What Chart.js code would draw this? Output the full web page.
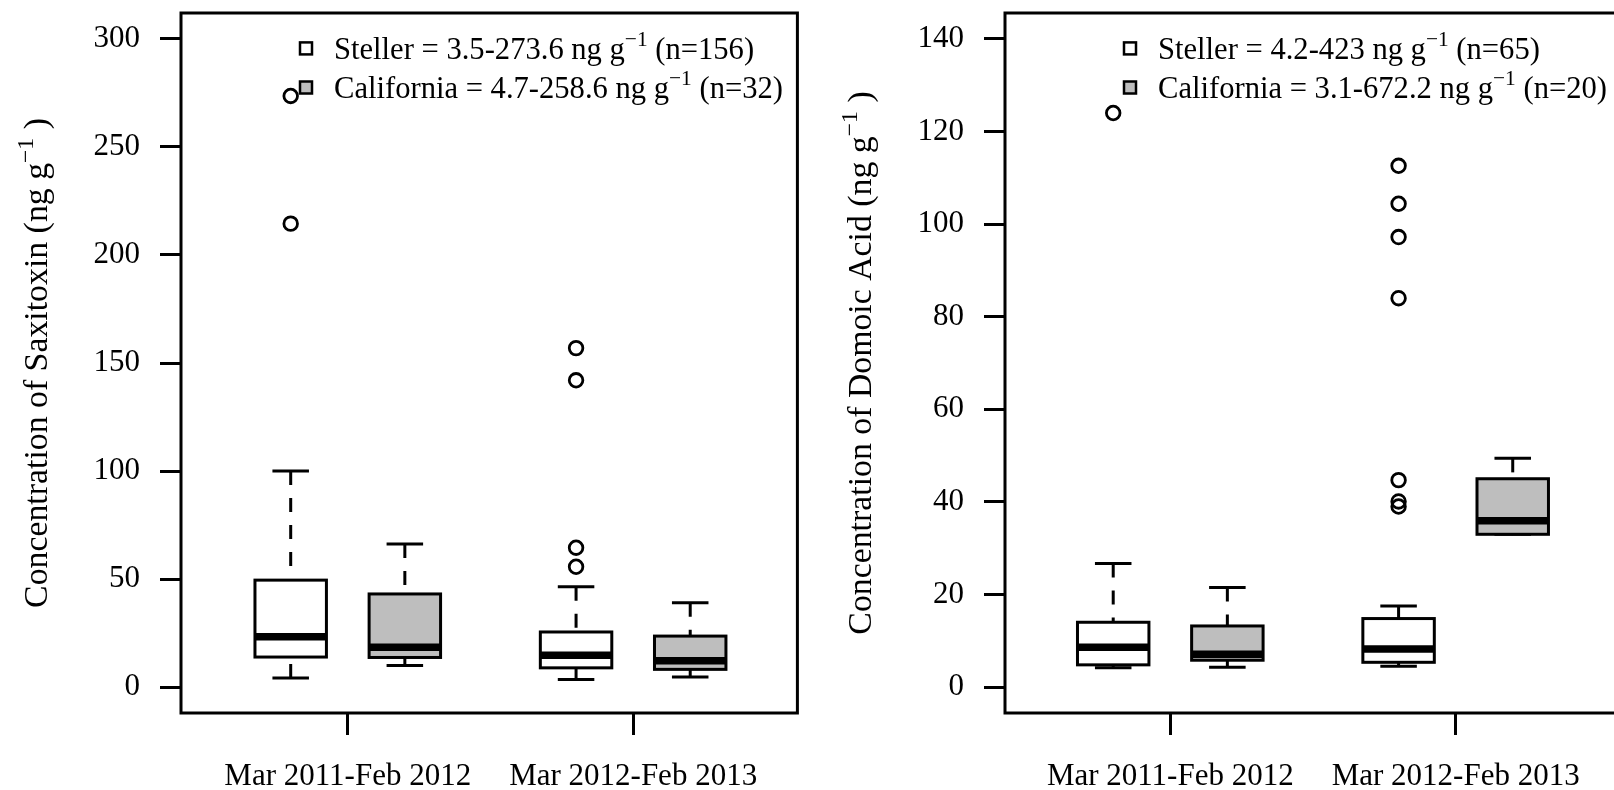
<!DOCTYPE html>
<html>
<head>
<meta charset="utf-8">
<title>Saxitoxin and domoic acid in Steller and California sea lions</title>
<script src="https://cdn.jsdelivr.net/npm/chart.js@4"></script>
<style>
html, body { margin: 0; padding: 0; background: #fff; overflow: hidden; width: 1614px; height: 790px; }
canvas { position: absolute; top: 0; }
#stx { left: 0; }
#da { left: 807px; }
</style>
</head>
<body>
<canvas id="stx" width="807" height="790"></canvas>
<canvas id="da" width="824" height="790"></canvas>
<script>
// groups on the x axis and where the boxes sit
const periods = ['Mar 2011-Feb 2012', 'Mar 2012-Feb 2013'];
const periodPos = [1.5, 4.0];
const boxPos = [1, 2, 3.5, 4.5];
const boxSpecies = ['Steller', 'California', 'Steller', 'California'];
const species = ['Steller', 'California'];

// saxitoxin (ng/g): whisker low, Q1, median, Q3, whisker high
const stxLow = [4.2, 10.0, 3.5, 4.7];
const stxQ1 = [13.9, 13.7, 8.9, 8.2];
const stxMed = [23.3, 18.4, 14.7, 12.2];
const stxQ3 = [49.5, 43.1, 25.5, 23.6];
const stxHigh = [100.0, 66.2, 46.4, 39.0];
const stxOutPos = [1, 1, 3.5, 3.5, 3.5, 3.5];
const stxOutVal = [273.6, 214.5, 156.9, 142.0, 64.5, 55.7];
const stxTicks = [0, 50, 100, 150, 200, 250, 300];
const stxRange = ['3.5-273.6', '4.7-258.6'];
const stxN = [156, 32];

// domoic acid (ng/g)
const daLow = [4.2, 4.3, 4.5, 33.0];
const daQ1 = [4.8, 5.8, 5.35, 33.0];
const daMed = [8.6, 7.1, 8.2, 35.9];
const daQ3 = [14.0, 13.2, 14.8, 45.0];
const daHigh = [26.7, 21.5, 17.5, 49.4];
const daOutPos = [1, 3.5, 3.5, 3.5, 3.5, 3.5, 3.5, 3.5];
const daOutVal = [124.0, 112.6, 104.4, 97.2, 84.0, 44.7, 40.1, 39.0];
const daTicks = [0, 20, 40, 60, 80, 100, 120, 140];
const daRange = ['4.2-423', '3.1-672.2'];
const daN = [65, 20];

const FONT = '"Liberation Serif", "Times New Roman", serif';
const fills = { Steller: '#ffffff', California: '#bebebe' };
const MINUS = '\u2212';

function richText(ctx, x, y, parts, size, measureOnly) {
  let cx = x;
  for (const [t, sup] of parts) {
    ctx.font = (sup ? size * 0.7 : size) + 'px ' + FONT;
    if (!measureOnly) ctx.fillText(t, cx, sup ? y - size * 0.42 : y);
    cx += ctx.measureText(t).width;
  }
  return cx - x;
}

function boxplotPlugin(d) {
  return {
    id: 'boxplot',
    beforeDatasetsDraw(chart) {
      const { ctx } = chart;
      const xs = chart.scales.x, ys = chart.scales.y;
      const unit = xs.getPixelForValue(1) - xs.getPixelForValue(0);
      const half = unit * 0.313, cap = unit * 0.16;
      ctx.save();
      ctx.strokeStyle = '#000';
      boxPos.forEach((p, i) => {
        const cx = xs.getPixelForValue(p);
        const yLo = ys.getPixelForValue(d.low[i]);
        const y1 = ys.getPixelForValue(d.q1[i]);
        const ym = ys.getPixelForValue(d.med[i]);
        const y3 = ys.getPixelForValue(d.q3[i]);
        const yHi = ys.getPixelForValue(d.high[i]);
        ctx.lineWidth = 3;
        ctx.setLineDash([14, 13]);
        ctx.beginPath(); ctx.moveTo(cx, yHi); ctx.lineTo(cx, y3); ctx.stroke();
        ctx.beginPath(); ctx.moveTo(cx, yLo); ctx.lineTo(cx, y1); ctx.stroke();
        ctx.setLineDash([]);
        ctx.beginPath();
        ctx.moveTo(cx - cap, yHi); ctx.lineTo(cx + cap, yHi);
        ctx.moveTo(cx - cap, yLo); ctx.lineTo(cx + cap, yLo);
        ctx.stroke();
        ctx.fillStyle = fills[boxSpecies[i]];
        ctx.fillRect(cx - half, y3, 2 * half, y1 - y3);
        ctx.strokeRect(cx - half, y3, 2 * half, y1 - y3);
        ctx.lineWidth = 7.5;
        ctx.beginPath(); ctx.moveTo(cx - half, ym); ctx.lineTo(cx + half, ym); ctx.stroke();
      });
      ctx.restore();
    },
    afterDraw(chart) {
      const { ctx, chartArea: a } = chart;
      ctx.save();
      ctx.strokeStyle = '#000';
      ctx.lineWidth = 3;
      ctx.strokeRect(a.left, a.top, a.right - a.left, a.bottom - a.top);

      // legend
      ctx.fillStyle = '#000';
      ctx.textBaseline = 'alphabetic';
      ctx.textAlign = 'left';
      const mx = a.left + 125;
      species.forEach((s, i) => {
        const my = a.top + 35.4 + i * 39.1;
        ctx.fillStyle = fills[s];
        ctx.fillRect(mx - 6, my - 6, 12, 12);
        ctx.lineWidth = 2.5;
        ctx.strokeRect(mx - 6, my - 6, 12, 12);
        ctx.fillStyle = '#000';
        richText(ctx, mx + 28, my + 10.5, [
          [s + ' = ' + d.range[i] + ' ng g', false],
          [MINUS + '1', true],
          [' (n=' + d.n[i] + ')', false]
        ], 30.6);
      });

      // y title with superscript
      const parts = [[d.title + ' (ng g', false], [MINUS + '1', true], [' )', false]];
      const w = richText(ctx, 0, 0, parts, 33.8, true);
      ctx.translate(a.left - 134, (a.top + a.bottom) / 2);
      ctx.rotate(-Math.PI / 2);
      richText(ctx, -w / 2, 0, parts, 33.8);
      ctx.restore();
    }
  };
}

function boxChart(id, d) {
  const tickFont = { family: FONT, size: 31 };
  const grid = { drawOnChartArea: false, drawTicks: true, tickWidth: 3, tickColor: '#000', color: '#000', lineWidth: 3 };
  return new Chart(document.getElementById(id), {
    type: 'scatter',
    data: {
      datasets: [{
        label: 'outliers',
        data: d.outPos.map((x, i) => ({ x, y: d.outVal[i] })),
        pointRadius: 6.8,
        pointHoverRadius: 6.8,
        pointBorderWidth: 2.8,
        pointBorderColor: '#000',
        pointBackgroundColor: 'rgba(0,0,0,0)'
      }]
    },
    options: {
      responsive: false,
      animation: false,
      events: [],
      layout: { padding: { left: 0, top: 13, right: 8, bottom: 0 } },
      plugins: { legend: { display: false }, tooltip: { enabled: false } },
      scales: {
        x: {
          type: 'linear',
          min: d.xMin,
          max: d.xMin + 5.40,
          afterBuildTicks: s => { s.ticks = periodPos.map(v => ({ value: v })); },
          afterFit: s => { s.height = 77; s.paddingLeft = 0; s.paddingRight = 0; },
          ticks: { callback: (v, i) => periods[i], font: tickFont, color: '#000', padding: 23, autoSkip: false, maxRotation: 0, minRotation: 0 },
          grid: Object.assign({ tickLength: 22 }, grid),
          border: { display: false }
        },
        y: {
          type: 'linear',
          min: d.yMin,
          max: d.yMax,
          afterBuildTicks: s => { s.ticks = d.ticks.map(v => ({ value: v })); },
          afterFit: s => { s.width = d.axisW; s.paddingTop = 0; s.paddingBottom = 0; },
          ticks: { callback: v => String(v), font: tickFont, color: '#000', padding: 20 },
          grid: Object.assign({ tickLength: 21 }, grid),
          border: { display: false }
        }
      }
    },
    plugins: [boxplotPlugin(d)]
  });
}

boxChart('stx', {
  low: stxLow, q1: stxQ1, med: stxMed, q3: stxQ3, high: stxHigh,
  outPos: stxOutPos, outVal: stxOutVal, ticks: stxTicks,
  range: stxRange, n: stxN, title: 'Concentration of Saxitoxin',
  yMin: -12, yMax: 312, xMin: 0.039, axisW: 181
});

boxChart('da', {
  low: daLow, q1: daQ1, med: daMed, q3: daQ3, high: daHigh,
  outPos: daOutPos, outVal: daOutVal, ticks: daTicks,
  range: daRange, n: daN, title: 'Concentration of Domoic Acid',
  yMin: -5.6, yMax: 145.6, xMin: 0.052, axisW: 198
});
</script>
</body>
</html>
